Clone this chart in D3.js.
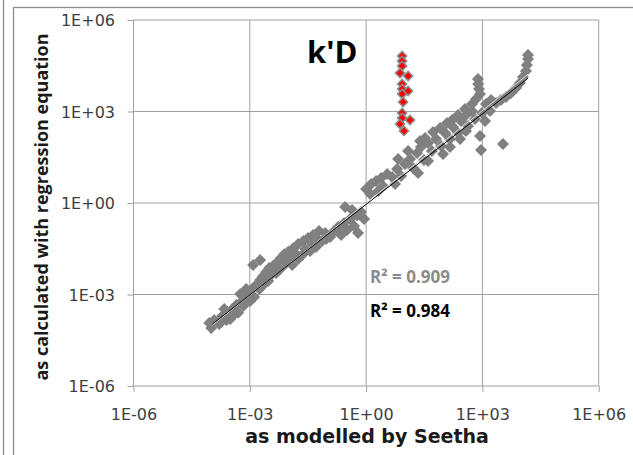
<html>
<head>
<meta http-equiv="Content-Type" content="text/html;charset=utf-8"/>
<script type="text/javascript" src="https://d3js.org/d3.v7.min.js"></script>
<style type="text/css">
body { margin: 0; background: #fff; }
text { font-family: "Open Sans", sans-serif; }
.tick text { fill: #404040; font-size: 16px; font-family: "DejaVu Sans", sans-serif; }
.tick line { stroke: #a0a0a0; }
.grid line { stroke: #a0a0a0; stroke-width: 1; }
</style>
</head>
<body>
<div id="chart"></div>
<script type="text/javascript">

// k'D : as modelled by Seetha (x) vs as calculated with regression equation (y)
var modelledX = [9.0e-5, 1.21e-4, 1.63e-4, 1.95e-4, 2.6e-4, 2.5e-4, 3.5e-4, 4.5e-4, 4.0e-4, 6.0e-4,
    7.6e-4, 6.8e-4, 9.7e-4, 1.15e-3, 1.3e-3, 1.55e-3, 1.85e-3, 2.2e-3, 1.75e-3, 2.65e-3,
    3.16e-3, 4.0e-3, 3.6e-3, 1.22e-3, 1.85e-3, 5.1e-3, 6.4e-3, 7.7e-3, 9.8e-3, 1.17e-2,
    6.1e-3, 8.7e-3, 1.31e-2, 1.77e-2, 1.57e-2, 2.4e-2, 3.2e-2, 2.7e-2, 4.1e-2, 4.3e-2,
    5.8e-2, 6.1e-2, 8.8e-2, 0.118, 0.150, 0.19, 0.227, 0.271, 0.324, 0.387,
    0.49, 0.586, 0.288, 0.435, 0.74, 0.89, 0.62, 1.0, 1.35, 1.81,
    2.44, 3.5, 2.74, 1.27, 4.7, 6.3, 8.0, 10.1, 13.6, 16.3,
    20.6, 26, 31, 39.6, 50, 63.7, 85.7, 109, 146, 175,
    235, 281, 378, 425, 540, 645, 96.5, 12.1, 24.7, 53.3,
    122, 235, 6.7, 771, 780, 817, 867, 684, 540, 1240,
    1670, 2240, 3010, 4060, 5460, 7350, 9310, 11100, 13300, 14100,
    15000, 15000, 977, 1570, 1170, 867, 920, 3400,
    1.01e-4, 2.19e-4, 3.13e-4, 5.0e-4, 1.02e-3, 8.1e-4, 5.7e-4, 2.09e-3, 2.98e-3, 4.8e-3,
    1.24e-2, 1.77e-2, 2.38e-2, 3.6e-2, 5.1e-2, 7.3e-2, 9.3e-2, 5.59, 21.9, 39.6,
    146, 265, 378, 33.2, 80.8, 165, 356, 2.04];
var calculatedY = [1.16e-4, 1.46e-4, 1.08e-4, 1.97e-4, 2.67e-4, 1.46e-4, 3.3e-4, 4.5e-4, 2.3e-4, 5.7e-4,
    7.7e-4, 4.2e-4, 1.12e-3, 1.51e-3, 8.3e-4, 2.2e-3, 3.0e-3, 4.0e-3, 1.51e-3, 5.5e-3,
    7.4e-3, 8.6e-3, 4.4e-3, 9.3e-3, 1.35e-2, 1.16e-2, 1.57e-2, 2.1e-2, 2.5e-2, 1.7e-2,
    6.9e-3, 1.08e-2, 3.3e-2, 4.5e-2, 2.1e-2, 5.7e-2, 7.1e-2, 3.1e-2, 4.5e-2, 8.9e-2,
    6.1e-2, 0.121, 0.104, 7.7e-2, 0.121, 0.163, 8.9e-2, 0.221, 0.130, 0.30,
    0.176, 0.40, 0.74, 0.59, 0.51, 0.30, 0.104, 2.9, 4.2, 5.3,
    6.6, 8.9, 3.6, 1.97, 7.1, 13, 7.7, 19, 27.7, 14,
    43.6, 68.5, 25.7, 92.7, 50.7, 125, 74, 197, 125, 310,
    197, 489, 768, 335, 1040, 568, 40.4, 50.7, 108, 213,
    420, 768, 27.7, 11600, 7980, 5470, 3750, 2570, 1760, 1760,
    2380, 1900, 2380, 2990, 4040, 5900, 8600, 13500, 21300, 33500,
    52600, 71200, 893, 1040, 489, 157, 54.7, 86,
    7.98e-5, 3.35e-4, 1.57e-4, 2.5e-4, 6.1e-4, 1.51e-3, 1.04e-3, 1.9e-3, 2.77e-3, 5.07e-3,
    9.3e-3, 1.46e-2, 2.13e-2, 2.67e-2, 3.6e-2, 5.7e-2, 6.6e-2, 4.2, 9.6, 23.8,
    68.6, 125, 230, 135, 288, 526, 1210, 2.47];

// highlighted (red) points
var redX = [8.5, 8.5, 8.5, 7.5, 12.1, 8.5, 8.5, 12.1, 8.5, 9.0, 8.5, 8.5, 13.6, 7.5, 9.5];
var redY = [66000, 45300, 31000, 18300, 14600, 7980, 5470, 4700, 3750, 2050, 893, 612, 526, 389, 230];

// power trendlines y = a * x^b
var fitA = [1.0, 0.9];
var fitB = [1.01, 0.99];
var fitR2 = ["R\u00b2 = 0.909", "R\u00b2 = 0.984"];
var fitRange = [1.1e-4, 1.5e4];

var tickValues = [1e-6, 1e-3, 1, 1e3, 1e6];
var tickLabels = ["1E-06", "1E-03", "1E+00", "1E+03", "1E+06"];

var w = 633, h = 455;
var plotL = 133.5, plotR = 598.7, plotT = 20, plotB = 386;

var svg = d3.select("#chart").append("svg")
    .attr("width", w)
    .attr("height", h);

// outer frames
svg.append("line").attr("x1", 3.5).attr("x2", 3.5).attr("y1", 0).attr("y2", h)
    .attr("stroke", "#8c8c8c").attr("stroke-width", 1.3);
svg.append("rect").attr("x", 13.5).attr("y", 7.5).attr("width", 700).attr("height", 600)
    .attr("fill", "none").attr("stroke", "#8c8c8c").attr("stroke-width", 1.3);

var x = d3.scaleLog().domain([1e-6, 1e6]).range([plotL, plotR]);
var y = d3.scaleLog().domain([1e-6, 1e6]).range([plotB, plotT]);

// grid
var grid = svg.append("g").attr("class", "grid");
grid.selectAll(".gx").data(tickValues).enter().append("line")
    .attr("x1", function(d) { return x(d); }).attr("x2", function(d) { return x(d); })
    .attr("y1", plotT).attr("y2", plotB);
grid.selectAll(".gy").data(tickValues).enter().append("line")
    .attr("y1", function(d) { return y(d); }).attr("y2", function(d) { return y(d); })
    .attr("x1", plotL).attr("x2", plotR);

var fmt = function(d, i) { return tickLabels[i]; };

var xAxis = svg.append("g")
    .attr("transform", "translate(0," + plotB + ")")
    .call(d3.axisBottom(x).tickValues(tickValues).tickFormat(fmt).tickSize(6).tickPadding(17));
var yAxis = svg.append("g")
    .attr("transform", "translate(" + plotL + ",0)")
    .call(d3.axisLeft(y).tickValues(tickValues).tickFormat(fmt).tickSize(6).tickPadding(12.5));
svg.selectAll(".domain").remove();
yAxis.selectAll(".tick text").attr("dy", "0.36em");

// points
var pts = modelledX.map(function(d, i) { return [d, calculatedY[i]]; });
var reds = redX.map(function(d, i) { return [d, redY[i]]; });

svg.append("g").selectAll("path").data(pts).enter().append("path")
    .attr("d", d3.symbol(d3.symbolSquare, 72))
    .attr("transform", function(d) { return "translate(" + x(d[0]) + "," + y(d[1]) + ") rotate(45)"; })
    .attr("fill", "#808080");

svg.append("g").selectAll("path").data(reds).enter().append("path")
    .attr("d", d3.symbol(d3.symbolSquare, 42))
    .attr("transform", function(d) { return "translate(" + x(d[0]) + "," + y(d[1]) + ") rotate(45)"; })
    .attr("fill", "#ff0000")
    .attr("stroke", "#8c8c8c")
    .attr("stroke-width", 1.5);

// trendlines
var line = d3.line()
    .x(function(d) { return x(d[0]); })
    .y(function(d) { return y(d[1]); });
var fitColors = ["#d9d9d9", "#000000"];
fitA.forEach(function(a, k) {
    var seg = fitRange.map(function(v) { return [v, a * Math.pow(v, fitB[k])]; });
    svg.append("path").datum(seg)
        .attr("d", line)
        .attr("fill", "none")
        .attr("stroke", fitColors[k])
        .attr("stroke-width", 1);
});

// labels
svg.append("text").attr("x", 307).attr("y", 63)
    .style("font-size", "31px").style("font-weight", "bold").attr("fill", "#000")
    .text("k'D");

var r2Y = [283, 317];
var r2Colors = ["#8c8c8c", "#000000"];
fitR2.forEach(function(t, k) {
    svg.append("text").attr("x", 370).attr("y", r2Y[k])
        .style("font-size", "17px").style("font-weight", "bold").attr("fill", r2Colors[k])
        .text(t);
});

svg.append("text")
    .attr("x", 367).attr("y", 443)
    .attr("text-anchor", "middle")
    .style("font-size", "19px").style("font-weight", "bold").attr("fill", "#1a1a1a")
    .style("font-family", "'DejaVu Sans', sans-serif")
    .text("as modelled by Seetha");

svg.append("text")
    .attr("transform", "translate(48,207) rotate(-90)")
    .attr("text-anchor", "middle")
    .style("font-size", "18px").style("font-weight", "bold").attr("fill", "#1a1a1a")
    .text("as calculated with regression equation");

</script>
</body>
</html>
